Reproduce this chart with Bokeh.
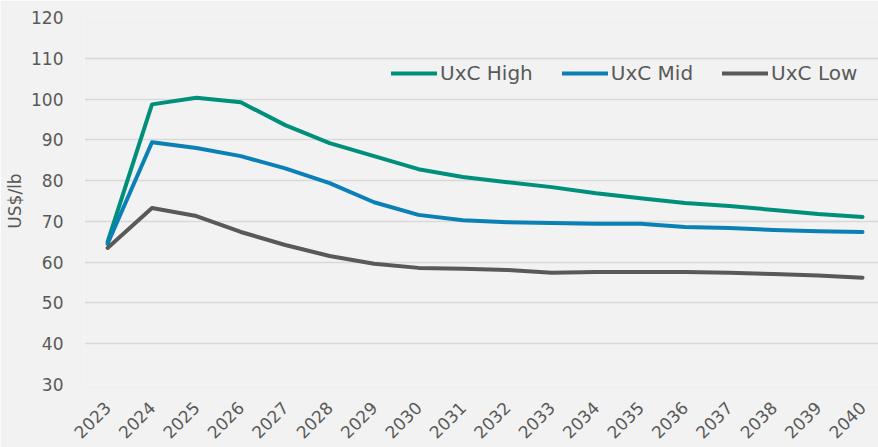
from bokeh.plotting import figure
from bokeh.models import Range1d, FixedTicker, Legend, LegendItem, ColumnDataSource
from bokeh.embed import file_html
from bokeh.resources import INLINE
import math

years = list(range(2023, 2041))
year_labels = [str(y) for y in years]
uxc_high = [65.0, 98.7, 100.3, 99.2, 93.6, 89.2, 86.0, 82.8, 80.9, 79.6, 78.4, 76.9, 75.7, 74.5, 73.8, 72.8, 71.8, 71.1]
uxc_mid = [64.5, 89.4, 88.0, 86.0, 83.0, 79.4, 74.7, 71.6, 70.3, 69.8, 69.6, 69.4, 69.4, 68.6, 68.4, 67.9, 67.6, 67.4]
uxc_low = [63.5, 73.3, 71.3, 67.4, 64.2, 61.5, 59.6, 58.6, 58.4, 58.1, 57.4, 57.6, 57.6, 57.6, 57.4, 57.1, 56.7, 56.2]
y_ticks = [30, 40, 50, 60, 70, 80, 90, 100, 110, 120]
y_label = "US$/lb"

FONT = "DejaVu Sans"
TXT = "#595959"
BG = "#f2f2f2"

p = figure(width=878, height=447, output_backend="svg", toolbar_location=None,
           x_range=Range1d(2022.48, 2040.36), y_range=Range1d(30, 120),
           min_border_left=84, min_border_right=0, min_border_top=17, min_border_bottom=62)
p.background_fill_color = BG
p.border_fill_color = BG
p.outline_line_color = None

src = ColumnDataSource(dict(x=years, high=uxc_high, mid=uxc_mid, low=uxc_low))
r_high = p.line("x", "high", source=src, line_color="#008f7a", line_width=4, line_cap="round", line_join="round")
r_mid = p.line("x", "mid", source=src, line_color="#0a80b6", line_width=4, line_cap="round", line_join="round")
r_low = p.line("x", "low", source=src, line_color="#595959", line_width=4, line_cap="round", line_join="round")

p.xaxis.ticker = FixedTicker(ticks=years)
p.xaxis.major_label_overrides = {y: s for y, s in zip(years, year_labels)}
p.xaxis.major_label_orientation = math.pi / 4
p.yaxis.ticker = FixedTicker(ticks=y_ticks)
for ax in (p.xaxis[0], p.yaxis[0]):
    ax.axis_line_color = None
    ax.major_tick_line_color = None
    ax.minor_tick_line_color = None
    ax.major_label_text_font = FONT
    ax.major_label_text_color = TXT
    ax.major_label_text_font_size = "17px"
p.yaxis.major_label_standoff = 15
p.xaxis.major_label_standoff = 14

p.yaxis.axis_label = y_label
p.yaxis.axis_label_text_font = FONT
p.yaxis.axis_label_text_font_style = "normal"
p.yaxis.axis_label_text_color = TXT
p.yaxis.axis_label_text_font_size = "17px"
p.yaxis.axis_label_standoff = 3

p.xgrid.grid_line_color = None
p.ygrid.grid_line_color = "#d9d9d9"
p.ygrid.grid_line_width = 1.5

legend = Legend(items=[LegendItem(label="UxC High", renderers=[r_high]),
                       LegendItem(label="UxC Mid", renderers=[r_mid]),
                       LegendItem(label="UxC Low", renderers=[r_low])],
                orientation="horizontal", location=(307, 299),
                background_fill_alpha=0, border_line_color=None,
                label_text_font=FONT, label_text_color=TXT, label_text_font_size="20px",
                glyph_width=46, label_standoff=3, spacing=29, padding=0, margin=0)
p.add_layout(legend)

open("out.html", "w").write(file_html(p, INLINE))
